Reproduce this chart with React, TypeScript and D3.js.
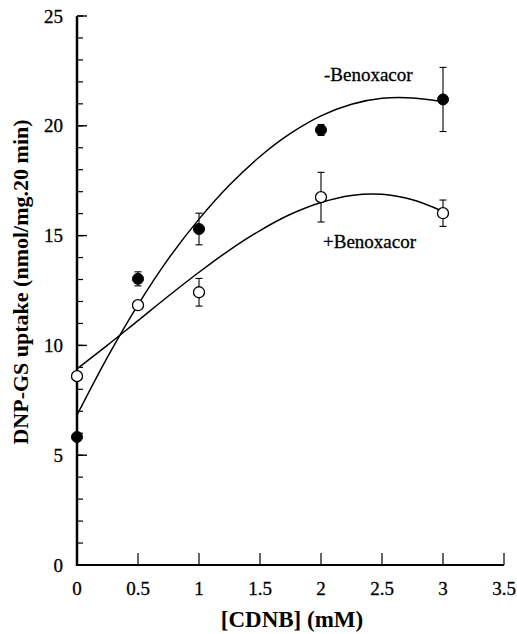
import React from "react";
import * as d3 from "d3";

// Measured points
const concentrations = [0, 0.5, 1, 2, 3];
const minusBenoxacor = [5.83, 13.03, 15.3, 19.81, 21.2];
const minusBenoxacorErr = [0, 0.32, 0.72, 0.25, 1.46];
const plusBenoxacor = [8.6, 11.83, 12.42, 16.75, 16.02];
const plusBenoxacorErr = [0, 0, 0.63, 1.13, 0.6];

// Fitted curves
const curveX = [0, 0.25, 0.5, 0.75, 1, 1.25, 1.5, 1.75, 2, 2.25, 2.5, 2.75, 3];
const minusCurveY = [6.83, 9.47, 11.85, 13.95, 15.75, 17.3, 18.6, 19.65, 20.45, 20.98, 21.25, 21.27, 21.1];
const plusCurveY = [8.93, 10.01, 11.13, 12.25, 13.33, 14.34, 15.23, 15.97, 16.51, 16.83, 16.88, 16.63, 16.1];

const xTicks = [0, 0.5, 1, 1.5, 2, 2.5, 3, 3.5];
const yMajorTicks = [0, 5, 10, 15, 20, 25];
const yMinorTicks = d3.range(0, 26, 1);

const xLabel = "[CDNB] (mM)";
const yLabel = "DNP-GS uptake (nmol/mg.20 min)";
const minusLabel = "-Benoxacor";
const plusLabel = "+Benoxacor";

const W = 517;
const H = 634;
const FONT = "Liberation Serif, Times New Roman, serif";

export default function App() {
  const x = d3.scaleLinear().domain([0, 3.5]).range([77, 504]);
  const y = d3.scaleLinear().domain([0, 25]).range([565, 16]);

  const line = d3
    .line<number>()
    .x((_, i) => x(curveX[i]))
    .curve(d3.curveCatmullRom.alpha(0.5));

  const minusPath = line.y((d) => y(d))(minusCurveY) || "";
  const plusPath = line.y((d) => y(d))(plusCurveY) || "";

  const r = 5.5;
  const cap = 3.5;
  const ts = { fontFamily: FONT };

  const errBar = (cx: number, v: number, e: number, key: string) =>
    e > 0 ? (
      <g key={key} stroke="#000" strokeWidth={1.1}>
        <line x1={x(cx)} x2={x(cx)} y1={y(v - e)} y2={y(v + e)} />
        <line x1={x(cx) - cap} x2={x(cx) + cap} y1={y(v + e)} y2={y(v + e)} />
        <line x1={x(cx) - cap} x2={x(cx) + cap} y1={y(v - e)} y2={y(v - e)} />
      </g>
    ) : null;

  return (
    <svg
      width={W}
      height={H}
      style={{ position: "absolute", left: 0, top: 0, background: "#fff" }}
    >
      <rect width={W} height={H} fill="#fff" />
      {/* y minor ticks */}
      {yMinorTicks.map((t) => (
        <line key={"ym" + t} x1={x(0)} x2={x(0) + 6} y1={y(t)} y2={y(t)} stroke="#000" strokeWidth={1.2} />
      ))}
      {yMajorTicks.map((t) => (
        <g key={"yM" + t}>
          <line x1={x(0)} x2={x(0) + 10} y1={y(t)} y2={y(t)} stroke="#000" strokeWidth={1.4} />
          <text x={63} y={y(t) + 6.5} textAnchor="end" fontSize={19} stroke="#000" strokeWidth={0.3} style={ts}>
            {t}
          </text>
        </g>
      ))}
      {xTicks.map((t) => (
        <g key={"x" + t}>
          <line x1={x(t)} x2={x(t)} y1={y(0)} y2={y(0) - 12} stroke="#000" strokeWidth={1.2} />
          <text x={x(t)} y={595} textAnchor="middle" fontSize={19} stroke="#000" strokeWidth={0.3} style={ts}>
            {t}
          </text>
        </g>
      ))}
      {/* axes */}
      <line x1={x(0)} x2={x(0)} y1={y(25)} y2={y(0) + 1} stroke="#000" strokeWidth={2.5} />
      <line x1={x(0) - 1} x2={x(3.5)} y1={y(0)} y2={y(0)} stroke="#000" strokeWidth={2.2} />

      {/* curves */}
      <path d={minusPath} fill="none" stroke="#000" strokeWidth={1.5} />
      <path d={plusPath} fill="none" stroke="#000" strokeWidth={1.5} />

      {/* error bars */}
      {concentrations.map((c, i) => errBar(c, minusBenoxacor[i], minusBenoxacorErr[i], "em" + i))}
      {concentrations.map((c, i) => errBar(c, plusBenoxacor[i], plusBenoxacorErr[i], "ep" + i))}

      {/* markers */}
      {concentrations.map((c, i) => (
        <circle key={"mp" + i} cx={x(c)} cy={y(plusBenoxacor[i])} r={r} fill="#fff" stroke="#000" strokeWidth={1.3} />
      ))}
      {concentrations.map((c, i) => (
        <circle key={"mm" + i} cx={x(c)} cy={y(minusBenoxacor[i])} r={r} fill="#000" stroke="#000" strokeWidth={1} />
      ))}

      {/* series labels */}
      <text x={324} y={81} fontSize={19} stroke="#000" strokeWidth={0.3} style={ts}>
        {minusLabel}
      </text>
      <text x={323} y={248} fontSize={19} stroke="#000" strokeWidth={0.3} style={ts}>
        {plusLabel}
      </text>

      {/* axis titles */}
      <text x={292} y={627} textAnchor="middle" fontSize={23} fontWeight="bold" style={ts}>
        {xLabel}
      </text>
      <text
        transform={`translate(28, 282) rotate(-90)`}
        textAnchor="middle"
        fontSize={22}
        fontWeight="bold"
        style={ts}
      >
        {yLabel}
      </text>
    </svg>
  );
}
